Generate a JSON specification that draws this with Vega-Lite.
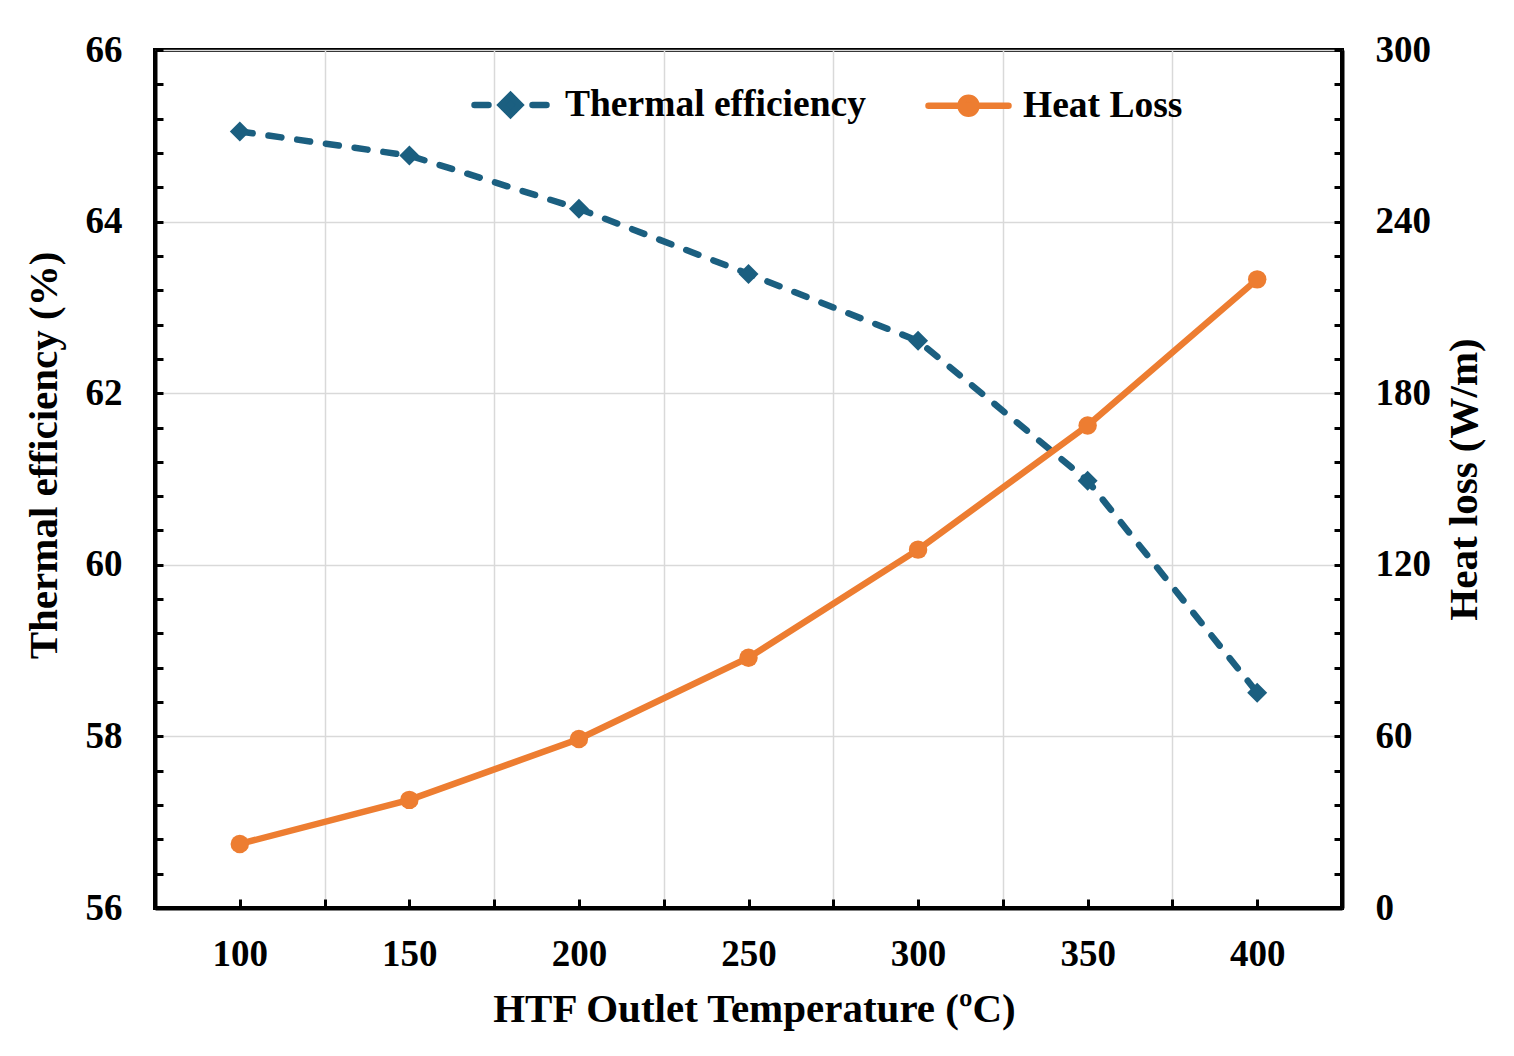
{
  "$schema": "https://vega.github.io/schema/vega-lite/v6.json",
  "autosize": {"type": "none"},
  "padding": {"left": 155, "top": 50, "right": 172, "bottom": 148},
  "width": 1187,
  "height": 858,
  "background": "white",
  "data": {
    "values": [
      {"T": 100, "eff": 65.05, "loss": 22.4},
      {"T": 150, "eff": 64.77, "loss": 37.8},
      {"T": 200, "eff": 64.15, "loss": 59.1},
      {"T": 250, "eff": 63.39, "loss": 87.5},
      {"T": 300, "eff": 62.61, "loss": 125.3},
      {"T": 350, "eff": 60.98, "loss": 168.7},
      {"T": 400, "eff": 58.51, "loss": 219.8}
    ]
  },
  "encoding": {
    "x": {
      "field": "T",
      "type": "quantitative",
      "scale": {"domain": [75, 425], "nice": false, "zero": false},
      "axis": {
        "title": "HTF Outlet Temperature (ºC)",
        "titleX": 599,
        "values": [100, 125, 150, 175, 200, 225, 250, 275, 300, 325, 350, 375, 400],
        "labelExpr": "datum.value % 50 == 0 ? datum.label : ''",
        "gridOpacity": {"condition": {"test": "datum.value % 50 == 25", "value": 1}, "value": 0},
        "tickSize": -9,
        "labelPadding": 37,
        "titlePadding": 17
      }
    }
  },
  "layer": [
    {
      "encoding": {
        "y": {
          "field": "eff",
          "type": "quantitative",
          "scale": {"domain": [56, 66], "nice": false, "zero": false},
          "axis": {
            "orient": "left",
            "title": "Thermal efficiency (%)",
            "titleY": 405,
            "values": [56, 56.4, 56.8, 57.2, 57.6, 58, 58.4, 58.8, 59.2, 59.6, 60, 60.4, 60.8, 61.2, 61.6, 62, 62.4, 62.8, 63.2, 63.6, 64, 64.4, 64.8, 65.2, 65.6, 66],
            "format": ".0f",
            "labelExpr": "datum.value % 2 == 0 ? datum.label : ''",
            "gridOpacity": {"condition": {"test": "datum.value % 2 == 0", "value": 1}, "value": 0},
            "tickSize": -8,
            "labelPadding": 41,
            "titlePadding": 20
          }
        },
        "color": {
          "datum": "Thermal efficiency",
          "scale": {"domain": ["Thermal efficiency", "Heat Loss"], "range": ["#1b5f80", "#ed7d31"]},
          "legend": {
            "encode": {
              "symbols": {
                "update": {
                  "shape": {"signal": "datum.value == 'Heat Loss' ? 'M-1,0L1,0M0.2,0A0.2,0.2,0,1,1,-0.2,0A0.2,0.2,0,1,1,0.2,0Z' : 'M-0.9,0L-0.55,0M0,-0.24L0.24,0L0,0.24L-0.24,0ZM0.55,0L0.9,0'"},
                  "fill": {"signal": "datum.value == 'Heat Loss' ? '#ed7d31' : '#1b5f80'"},
                  "stroke": {"signal": "datum.value == 'Heat Loss' ? '#ed7d31' : '#1b5f80'"},
                  "strokeWidth": {"value": 6.5},
                  "strokeCap": {"value": "round"},
                  "opacity": {"value": 1},
                  "fillOpacity": {"value": 1},
                  "strokeOpacity": {"value": 1}
                }
              }
            }
          }
        }
      },
      "layer": [
        {
          "mark": {"type": "line", "strokeWidth": 6.5, "strokeDash": [13, 16], "strokeCap": "round"}
        },
        {
          "mark": {"type": "point", "shape": "diamond", "filled": true, "size": 400, "opacity": 1}
        }
      ]
    },
    {
      "encoding": {
        "y": {
          "field": "loss",
          "type": "quantitative",
          "scale": {"domain": [0, 300], "nice": false},
          "axis": {
            "orient": "right",
            "title": "Heat loss (W/m)",
            "titleAngle": -90,
            "titleBaseline": "top",
            "values": [0, 12, 24, 36, 48, 60, 72, 84, 96, 108, 120, 132, 144, 156, 168, 180, 192, 204, 216, 228, 240, 252, 264, 276, 288, 300],
            "labelExpr": "datum.value % 60 == 0 ? datum.label : ''",
            "grid": false,
            "tickSize": -8,
            "labelPadding": 41,
            "titlePadding": 14
          }
        },
        "color": {"datum": "Heat Loss"}
      },
      "layer": [
        {
          "mark": {"type": "line", "strokeWidth": 6.5}
        },
        {
          "mark": {"type": "point", "shape": "circle", "filled": true, "size": 340, "opacity": 1}
        }
      ]
    }
  ],
  "resolve": {"scale": {"y": "independent"}},
  "config": {
    "font": "Liberation Serif",
    "view": {"stroke": "black", "strokeWidth": 4},
    "axis": {
      "domainColor": "black",
      "domainWidth": 4,
      "tickColor": "black",
      "tickWidth": 3,
      "labelFont": "Liberation Serif",
      "labelFontWeight": "bold",
      "labelFontSize": 37,
      "labelColor": "black",
      "titleFont": "Liberation Serif",
      "titleFontWeight": "bold",
      "titleFontSize": 41,
      "titleColor": "black",
      "gridColor": "#d9d9d9",
      "gridWidth": 1.5
    },
    "legend": {
      "orient": "none",
      "legendX": 312,
      "legendY": 11,
      "direction": "horizontal",
      "title": null,
      "symbolSize": 6400,
      "symbolStrokeWidth": 6.5,
      "labelFont": "Liberation Serif",
      "labelFontWeight": "bold",
      "labelFontSize": 37.5,
      "labelColor": "black",
      "labelLimit": 0,
      "labelOffset": 11,
      "columnPadding": 49,
      "padding": 0
    }
  }
}
